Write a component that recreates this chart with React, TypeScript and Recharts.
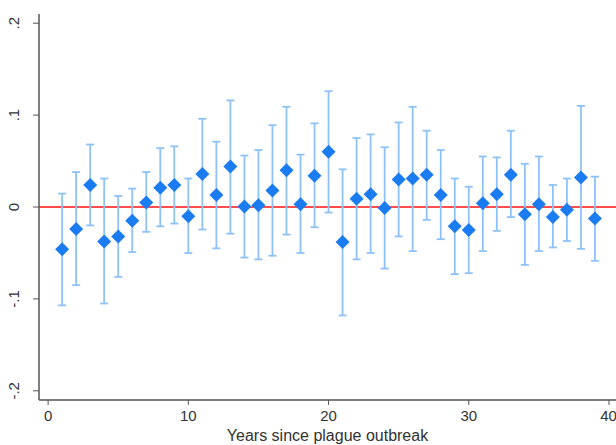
import {
  ComposedChart,
  Scatter,
  ErrorBar,
  XAxis,
  YAxis,
  ReferenceLine,
} from "recharts";

/* years since outbreak */
const years = [
  1, 2, 3, 4, 5, 6, 7, 8, 9, 10, 11, 12, 13, 14, 15, 16, 17, 18, 19, 20,
  21, 22, 23, 24, 25, 26, 27, 28, 29, 30, 31, 32, 33, 34, 35, 36, 37, 38, 39,
];

/* point estimates */
const coef = [
  -0.046, -0.024, 0.024, -0.0375, -0.032, -0.015, 0.005, 0.021, 0.024, -0.01,
  0.036, 0.013, 0.044, 0.0005, 0.002, 0.018, 0.04, 0.003, 0.034, 0.06,
  -0.038, 0.009, 0.014, -0.001, 0.03, 0.031, 0.035, 0.013, -0.021, -0.025,
  0.004, 0.014, 0.035, -0.008, 0.003, -0.011, -0.003, 0.032, -0.0125,
];

/* confidence interval bounds */
const upper = [
  0.0146, 0.038, 0.068, 0.031, 0.012, 0.02, 0.038, 0.064, 0.066, 0.031,
  0.096, 0.071, 0.116, 0.056, 0.062, 0.089, 0.109, 0.057, 0.091, 0.126,
  0.041, 0.075, 0.079, 0.065, 0.092, 0.109, 0.083, 0.062, 0.031, 0.022,
  0.055, 0.054, 0.083, 0.047, 0.055, 0.024, 0.031, 0.11, 0.033,
];
const lower = [
  -0.107, -0.085, -0.02, -0.105, -0.076, -0.049, -0.027, -0.021, -0.018, -0.05,
  -0.0245, -0.045, -0.029, -0.055, -0.057, -0.053, -0.03, -0.05, -0.022, -0.006,
  -0.118, -0.057, -0.05, -0.067, -0.032, -0.048, -0.014, -0.035, -0.073, -0.072,
  -0.048, -0.026, -0.011, -0.063, -0.048, -0.044, -0.037, -0.0455, -0.0585,
];

const yTicks = [-0.2, -0.1, 0, 0.1, 0.2];
const xTicks = [0, 10, 20, 30, 40];

const data = years.map((yr, i) => ({
  year: yr,
  coef: coef[i],
  err: [coef[i] - lower[i], upper[i] - coef[i]],
}));

const fmtY = (v: number) => {
  if (v === 0) return "0";
  return (v < 0 ? "-" : "") + String(Math.abs(v)).replace(/^0/, "");
};

const Diamond = (p: any) => {
  const { cx, cy } = p;
  if (cx == null || cy == null) return null;
  const r = 7;
  return (
    <polygon
      points={`${cx},${cy - r} ${cx + r},${cy} ${cx},${cy + r} ${cx - r},${cy}`}
      fill="#1a7cf0"
    />
  );
};

const YTick = (p: any) => {
  const { x, y, payload } = p;
  return (
    <text
      x={x - 12}
      y={y}
      transform={`rotate(-90 ${x - 12} ${y})`}
      textAnchor="middle"
      fontSize={15}
      fill="#333"
    >
      {fmtY(payload.value)}
    </text>
  );
};

export default function App() {
  return (
    <div
      style={{
        position: "absolute",
        left: 0,
        top: 0,
        width: 616,
        height: 445,
        overflow: "hidden",
        background: "#fff",
        fontFamily: "Liberation Sans, Arial, sans-serif",
      }}
    >
      <ComposedChart
        width={616}
        height={445}
        data={data}
        margin={{ top: 14, right: 0, bottom: 0, left: 0 }}
      >
        <XAxis
          xAxisId="top"
          orientation="top"
          dataKey="year"
          type="number"
          domain={[-0.65, 40.5]}
          tick={false}
          tickLine={false}
          height={0}
          axisLine={{ stroke: "#888", strokeWidth: 1.5 }}
        />
        <XAxis
          dataKey="year"
          type="number"
          domain={[-0.65, 40.5]}
          ticks={xTicks}
          allowDataOverflow
          height={45}
          tickSize={5}
          tickMargin={5}
          tick={{ fontSize: 15, fill: "#333" }}
          axisLine={{ stroke: "#555", strokeWidth: 1.5 }}
          tickLine={{ stroke: "#555" }}
          label={{
            value: "Years since plague outbreak",
            position: "insideBottom",
            offset: 4,
            fontSize: 16,
            fill: "#333",
          }}
        />
        <YAxis
          type="number"
          domain={[-0.21, 0.21]}
          ticks={yTicks}
          allowDataOverflow
          width={39}
          tickSize={6}
          tick={<YTick />}
          axisLine={{ stroke: "#555", strokeWidth: 1.5 }}
          tickLine={{ stroke: "#555" }}
        />
        <ReferenceLine y={0} stroke="#ff4d4d" strokeWidth={2} />
        <Scatter
          dataKey="coef"
          shape={<Diamond />}
          isAnimationActive={false}
        >
          <ErrorBar
            dataKey="err"
            direction="y"
            width={4}
            stroke="#8ec2f7"
            strokeWidth={1.8}
            isAnimationActive={false}
          />
        </Scatter>
      </ComposedChart>
    </div>
  );
}
